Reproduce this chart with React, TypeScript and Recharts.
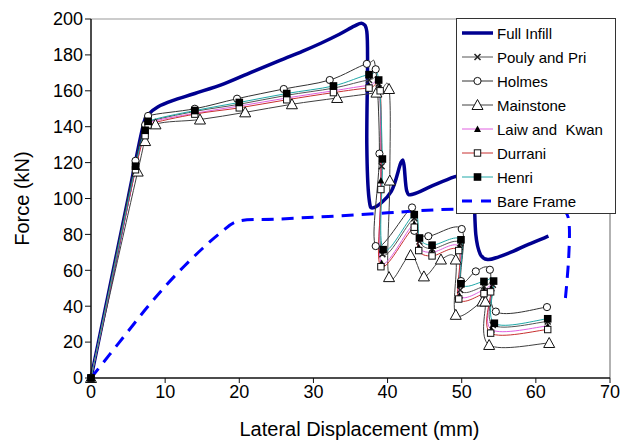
import React from "react";
import { LineChart, Line, XAxis, YAxis, Legend, ReferenceLine } from "recharts";

const xTicks = [0, 10, 20, 30, 40, 50, 60, 70];
const yTicks = [0, 20, 40, 60, 80, 100, 120, 140, 160, 180, 200];

// [displacement mm, force kN]
const fullInfill: [number, number][] = [
  [0, 0], [2.5, 50], [5, 100], [7, 140], [7.8, 147], [9, 151], [11, 154.5],
  [14, 158.5], [18, 164], [22, 171], [25.5, 177], [28.5, 182], [31, 186.5],
  [33.5, 191.5], [35.5, 196], [36.6, 197.5], [37.2, 193], [37.3, 175],
  [37.2, 130], [37.5, 100], [38.2, 95], [40.5, 104], [41.8, 120], [42.2, 119],
  [42.6, 104], [43.5, 102.5], [46, 107], [49, 112], [51, 114], [51.6, 105],
  [51.9, 80], [52.5, 69], [53.5, 66], [55, 67.5], [57, 70.7], [59, 74.5],
  [61.7, 79],
];
const pouly: [number, number][] = [
  [0, 0], [6, 117], [7.3, 137], [7.7, 142.5], [14, 148.5], [20, 152.5],
  [26.4, 157.5], [32.7, 161.5], [37.5, 166], [38.8, 164], [39.2, 118],
  [39.3, 69], [43.6, 89], [44.3, 76], [46, 72], [49.8, 75], [49.8, 49],
  [53, 51], [54.2, 52], [54.2, 29.5], [61.6, 31.5],
];
const holmes: [number, number][] = [
  [0, 0], [6, 121], [7.3, 141], [7.7, 146], [14, 150], [19.7, 155.6],
  [26, 161], [32.2, 166], [37.2, 175], [38.4, 172], [38.9, 125],
  [38.4, 73.5], [43.3, 95], [43.6, 82], [45.5, 79], [50, 83], [49.9, 54],
  [51.9, 59.4], [53.8, 60.3], [54.6, 37], [61.5, 39.5],
];
const mainstone: [number, number][] = [
  [0, 0], [6.3, 115], [7.3, 132], [8.7, 141.3], [14.7, 144], [20.8, 148],
  [27.1, 152.5], [33.2, 156], [38.5, 159], [40.2, 161], [40.3, 110],
  [40.2, 56.2], [43.1, 68.5], [44.9, 56.6], [47.2, 66], [49.2, 66],
  [49.2, 35.2], [52.8, 42.6], [53.2, 42.6], [53.7, 18.4], [61.8, 19.5],
];
const laiwKwan: [number, number][] = [
  [0, 0], [6, 116], [7.3, 136], [7.7, 142], [14, 147.5], [20, 151.5],
  [26.4, 156], [32.7, 160], [37.5, 163], [38.9, 162], [39.1, 110],
  [39.2, 64], [43.6, 86], [44.2, 73], [46, 70], [49.7, 73], [49.7, 46],
  [53, 49], [54, 50], [54, 27], [61.6, 29],
];
const durrani: [number, number][] = [
  [0, 0], [6, 116], [7.3, 135], [7.7, 141], [14, 147], [20, 150.5],
  [26.4, 155], [32.7, 159], [37.5, 161.5], [39, 160], [39.1, 105],
  [39.1, 62], [43.6, 84], [44.2, 71], [46, 68], [49.6, 71], [49.6, 44],
  [53, 47], [53.9, 48], [53.9, 25], [61.6, 27],
];
const henri: [number, number][] = [
  [0, 0], [6, 118], [7.3, 138], [7.7, 143], [14, 149], [20, 153.5],
  [26.4, 158.5], [32.7, 162.7], [37.5, 169], [38.8, 166], [39.3, 122],
  [39.4, 71.5], [43.6, 91], [44.3, 78], [46, 74], [49.9, 77], [49.9, 52.5],
  [53, 53.8], [54.3, 54], [54.4, 30.5], [61.6, 33],
];
const bareFrame: [number, number][] = [
  [0, 0], [2.5, 13], [5, 26], [7.5, 39], [10, 51], [12.5, 62], [15, 72],
  [17.5, 81], [20, 87.5], [25, 88.5], [32, 90], [40, 92], [47, 93.8],
  [55, 94.5], [62, 94.5], [63.9, 93], [64.5, 85], [64.4, 65], [63.9, 40.5],
];

const toPts = (a: [number, number][]) => a.map(([x, y]) => ({ x, y }));

// excel-like smoothed line (catmull-rom through every point)
function excelSmooth(context: any) {
  let pts: number[][] = [];
  return {
    areaStart() {},
    areaEnd() {},
    lineStart() {
      pts = [];
    },
    point(x: number, y: number) {
      pts.push([x, y]);
    },
    lineEnd() {
      if (!pts.length) return;
      context.moveTo(pts[0][0], pts[0][1]);
      const t = 1 / 6;
      for (let i = 0; i < pts.length - 1; i++) {
        const p0 = pts[i - 1] || pts[i];
        const p1 = pts[i];
        const p2 = pts[i + 1];
        const p3 = pts[i + 2] || p2;
        context.bezierCurveTo(
          p1[0] + (p2[0] - p0[0]) * t,
          p1[1] + (p2[1] - p0[1]) * t,
          p2[0] - (p3[0] - p1[0]) * t,
          p2[1] - (p3[1] - p1[1]) * t,
          p2[0],
          p2[1]
        );
      }
    },
  };
}

type MarkerKind = "none" | "cross" | "circle" | "triangle" | "smallTriangle" | "openSquare" | "square";

function MarkerShape({ kind, cx, cy }: { kind: MarkerKind; cx: number; cy: number }) {
  switch (kind) {
    case "cross":
      return (
        <path
          d={`M${cx - 3},${cy - 3}L${cx + 3},${cy + 3}M${cx - 3},${cy + 3}L${cx + 3},${cy - 3}`}
          stroke="#222"
          strokeWidth={1.5}
        />
      );
    case "circle":
      return <circle cx={cx} cy={cy} r={3.6} fill="#fff" stroke="#111" strokeWidth={1} />;
    case "triangle":
      return (
        <path
          d={`M${cx},${cy - 5.5}L${cx + 5.5},${cy + 4.5}L${cx - 5.5},${cy + 4.5}Z`}
          fill="#fff"
          stroke="#111"
          strokeWidth={1}
        />
      );
    case "smallTriangle":
      return <path d={`M${cx},${cy - 3.5}L${cx + 3.5},${cy + 3}L${cx - 3.5},${cy + 3}Z`} fill="#000" />;
    case "openSquare":
      return <rect x={cx - 3.2} y={cy - 3.2} width={6.4} height={6.4} fill="#fff" stroke="#111" strokeWidth={1} />;
    case "square":
      return <rect x={cx - 3.8} y={cy - 3.8} width={7.6} height={7.6} fill="#000" />;
    default:
      return null;
  }
}

const series = [
  { name: "Full Infill", data: fullInfill, color: "#000090", width: 3.5, marker: "none" as MarkerKind, dash: undefined },
  { name: "Pouly and Pri", data: pouly, color: "#555555", width: 1, marker: "cross" as MarkerKind, dash: undefined },
  { name: "Holmes", data: holmes, color: "#333333", width: 1, marker: "circle" as MarkerKind, dash: undefined },
  { name: "Mainstone", data: mainstone, color: "#404040", width: 1, marker: "triangle" as MarkerKind, dash: undefined },
  { name: "Laiw and  Kwan", data: laiwKwan, color: "#e060e0", width: 1, marker: "smallTriangle" as MarkerKind, dash: undefined },
  { name: "Durrani", data: durrani, color: "#c83030", width: 1, marker: "openSquare" as MarkerKind, dash: undefined },
  { name: "Henri", data: henri, color: "#20a8a8", width: 1, marker: "square" as MarkerKind, dash: undefined },
  { name: "Bare Frame", data: bareFrame, color: "#0000ff", width: 3, marker: "none" as MarkerKind, dash: "12 8" },
];

const FONT = "'Liberation Sans', Arial, sans-serif";

function LegendBox() {
  return (
    <div
      style={{
        width: 158,
        height: 192,
        border: "1px solid #333",
        background: "#fff",
        paddingTop: 2,
        fontFamily: FONT,
        fontSize: 15,
        color: "#000",
      }}
    >
      {series.map((s) => (
        <div key={s.name} style={{ display: "flex", alignItems: "center", height: 24, whiteSpace: "pre" }}>
          <svg width={36} height={24} style={{ marginLeft: 4, flexShrink: 0 }}>
            <line
              x1={1}
              y1={12}
              x2={32}
              y2={12}
              stroke={s.color}
              strokeWidth={s.width}
              strokeDasharray={s.dash ? "10 9" : undefined}
            />
            <MarkerShape kind={s.marker} cx={16.5} cy={12} />
          </svg>
          <span>{s.name}</span>
        </div>
      ))}
    </div>
  );
}

export default function App() {
  return (
    <div style={{ position: "absolute", left: 0, top: 0, background: "#fff" }}>
      <LineChart
        width={629}
        height={442}
        margin={{ top: 19, right: 19, left: 0, bottom: 0 }}
        style={{ fontFamily: FONT }}
      >
        <XAxis
          type="number"
          dataKey="x"
          domain={[0, 70]}
          ticks={xTicks}
          height={64}
          tickSize={5}
          tick={{ fontSize: 18, fill: "#000", fontFamily: FONT }}
          axisLine={{ stroke: "#111", strokeWidth: 1.5 }}
          tickLine={{ stroke: "#111" }}
          label={{
            value: "Lateral Displacement (mm)",
            position: "insideBottom",
            offset: 6,
            dx: 9,
            style: { fontSize: 20, fill: "#000", fontFamily: FONT },
          }}
        />
        <YAxis
          type="number"
          domain={[0, 200]}
          ticks={yTicks}
          width={91}
          tickSize={6}
          tick={{ fontSize: 18, fill: "#000", fontFamily: FONT }}
          axisLine={{ stroke: "#111", strokeWidth: 1.5 }}
          tickLine={{ stroke: "#111" }}
          label={{
            value: "Force (kN)",
            angle: -90,
            position: "insideLeft",
            offset: 22,
            style: { fontSize: 20, fill: "#000", fontFamily: FONT, textAnchor: "middle" },
          }}
        />
        <ReferenceLine y={200} stroke="#bbbbbb" strokeWidth={1.5} />
        <ReferenceLine x={70} stroke="#999999" strokeWidth={1.5} />
        {series.map((s) => (
          <Line
            key={s.name}
            name={s.name}
            data={toPts(s.data)}
            dataKey="y"
            type={excelSmooth as any}
            stroke={s.color}
            strokeWidth={s.width}
            strokeDasharray={s.dash}
            dot={
              s.marker === "none"
                ? false
                : (p: any) => <MarkerShape key={`${s.name}-${p.index}`} kind={s.marker} cx={p.cx} cy={p.cy} />
            }
            activeDot={false}
            isAnimationActive={false}
          />
        ))}
        <Legend
          layout="vertical"
          align="center"
          verticalAlign="middle"
          wrapperStyle={{ position: "absolute", left: 456, top: 18, width: 160, height: 194 }}
          content={() => <LegendBox />}
        />
      </LineChart>
    </div>
  );
}
